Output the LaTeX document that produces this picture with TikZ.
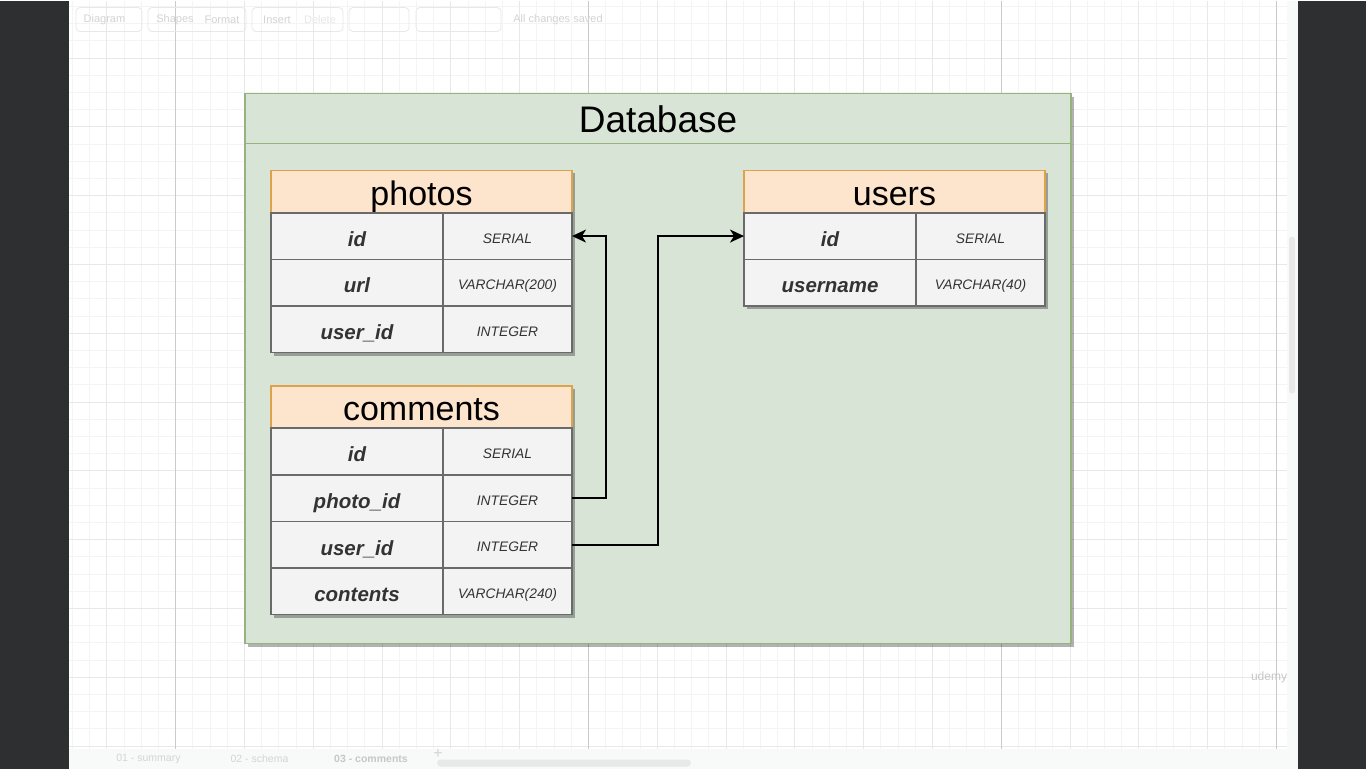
\documentclass[tikz,border=0pt]{standalone}
\usepackage{fontspec}
\setmainfont{Liberation Sans}
\usetikzlibrary{arrows.meta, positioning, shadows}

\definecolor{sidebg}{HTML}{2E2F31}
\definecolor{gridminor}{HTML}{F4F4F4}
\definecolor{gridmajor}{HTML}{E8E8E8}
\definecolor{gridpage}{HTML}{CACACA}
\definecolor{dbfill}{HTML}{D8E4D6}
\definecolor{dbline}{HTML}{96B27F}
\definecolor{headfill}{HTML}{FDE4CC}
\definecolor{headline}{HTML}{DDA24A}
\definecolor{cellfill}{HTML}{F3F3F3}
\definecolor{cellline}{HTML}{6A6A6A}
\definecolor{celltext}{HTML}{333333}
\definecolor{uitext}{HTML}{D4D4D4}
\definecolor{uibar}{HTML}{F8F9F9}

\begin{document}
\begin{tikzpicture}[
		x=1pt, y=-1pt,
		node distance=0pt and 0pt,
		boxshadow/.style={drop shadow={shadow xshift=3pt, shadow yshift=-3pt, fill=black, opacity=0.3}},
		dbbox/.style={draw=dbline, line width=1.5pt, fill=dbfill, minimum width=826pt, minimum height=550pt, outer sep=0pt, boxshadow},
		dbtitle/.style={draw=dbline, line width=1.5pt, minimum width=826pt, minimum height=50pt, outer sep=0pt, inner sep=0pt, text height=28.5pt, text depth=0pt, font=\fontsize{37}{40}\selectfont},
		tablehead/.style={draw=headline, line width=1.5pt, fill=headfill, minimum width=301pt, minimum height=42.5pt, outer sep=0pt, inner sep=0pt, text height=27.5pt, text depth=0pt, font=\fontsize{34}{38}\selectfont, boxshadow},
		namecell/.style={draw=cellline, line width=1.6pt, fill=cellfill, minimum width=172pt, minimum height=46.6pt, outer sep=0pt, inner sep=0pt, text=celltext, text height=20.5pt, text depth=0pt, font=\fontsize{20.5}{24}\selectfont\bfseries\itshape, boxshadow},
		typecell/.style={namecell, minimum width=129pt, text height=14.2pt, font=\fontsize{13.8}{16}\selectfont\itshape},
		arrow/.style={-{Stealth[length=14pt, width=13pt, inset=4pt]}, line width=1.5pt},
		uilabel/.style={text=uitext, inner sep=0pt, font=\fontsize{11}{13}\selectfont},
		uibox/.style={draw=gridmajor, line width=0.8pt, rounded corners=4pt}
	]

		% Screen
		\fill[sidebg] (0,0) rectangle (1366,768);
		\fill[white] (69,0) rectangle (1298,768);
		\foreach \k in {4,...,74}
			\draw[gridminor, line width=1pt] ({3.7+17.2*\k},0) -- ({3.7+17.2*\k},768);
		\foreach \k in {0,...,44}
			\draw[gridminor, line width=1pt] (69,{5.9+17.2*\k}) -- (1287,{5.9+17.2*\k});
		\foreach \k in {-1,...,16}
			\draw[gridmajor, line width=1pt] ({175.7+68.8*\k},0) -- ({175.7+68.8*\k},768);
		\foreach \k in {0,...,10}
			\draw[gridmajor, line width=1pt] (69,{57.5+68.8*\k}) -- (1287,{57.5+68.8*\k});
		\foreach \x in {175.7,588.5,1001.3,1276.5}
			\draw[gridpage, line width=1pt] (\x,0) -- (\x,768);

		% Toolbar
		\draw[uibox] (76,7) rectangle (142,31);
		\draw[uibox] (148,7) rectangle (246,31);
		\draw[uibox] (252,7) rectangle (343,31);
		\draw[uibox] (349,7) rectangle (409,31);
		\draw[uibox] (416,7) rectangle (501,31);
		\node[uilabel] (tb-diagram) at (104.5,19) {Diagram};
		\node[uilabel] (tb-shapes) at (175,19) {Shapes};
		\node[uilabel] (tb-format) at (222,19) {Format};
		\node[uilabel] (tb-insert) at (277,19) {Insert};
		\node[uilabel, text=gridmajor] (tb-delete) at (320,19) {Delete};
		\node[uilabel] (tb-saved) at (558,19) {All changes saved};

		% Tabs and scrollbars
		\fill[uibar] (69,748) rectangle (1287,768);
		\fill[uibar] (1287,0) rectangle (1298,768);
		\fill[gridmajor, rounded corners=3pt] (1289,236) rectangle (1295,393);
		\fill[gridmajor, rounded corners=3.5pt] (437,759) rectangle (691,766);
		\node[uilabel, font=\fontsize{10.5}{12}\selectfont] (tab-one) at (148.5,758) {01 - summary};
		\node[uilabel, font=\fontsize{10.5}{12}\selectfont] (tab-two) at (259.5,758) {02 - schema};
		\node[uilabel, text=black!22, font=\fontsize{10.5}{12}\selectfont\bfseries] (tab-three) at (371,758) {03 - comments};
		\node[uilabel, font=\fontsize{16}{16}\selectfont] (tab-add) at (438,753) {+};
		\node[uilabel, text=black!22, font=\fontsize{12}{14}\selectfont] (mark) at (1269,677) {udemy};

		% Nodes
		\node[dbbox] (db) at (658,368) {};
		\node[dbtitle, anchor=north] (db-title) at (db.north) {Database};

		\node[tablehead] (photos) at (421.5,191) {photos};
		\node[namecell, below right=of photos.south west] (photos-id) {id};
		\node[typecell, right=of photos-id] (photos-id-t) {SERIAL};
		\node[namecell, below=of photos-id] (photos-url) {url};
		\node[typecell, right=of photos-url] (photos-url-t) {VARCHAR(200)};
		\node[namecell, below=of photos-url] (photos-user) {user\_id};
		\node[typecell, right=of photos-user] (photos-user-t) {INTEGER};

		\node[tablehead] (comments) at (421.5,406.5) {comments};
		\node[namecell, below right=of comments.south west] (comments-id) {id};
		\node[typecell, right=of comments-id] (comments-id-t) {SERIAL};
		\node[namecell, below=of comments-id] (comments-photo) {photo\_id};
		\node[typecell, right=of comments-photo] (comments-photo-t) {INTEGER};
		\node[namecell, below=of comments-photo] (comments-user) {user\_id};
		\node[typecell, right=of comments-user] (comments-user-t) {INTEGER};
		\node[namecell, below=of comments-user] (comments-text) {contents};
		\node[typecell, right=of comments-text] (comments-text-t) {VARCHAR(240)};

		\node[tablehead] (users) at (894.5,191) {users};
		\node[namecell, below right=of users.south west] (users-id) {id};
		\node[typecell, right=of users-id] (users-id-t) {SERIAL};
		\node[namecell, below=of users-id] (users-name) {username};
		\node[typecell, right=of users-name] (users-name-t) {VARCHAR(40)};

		% Arrows
		\draw[arrow] (comments-photo-t.east) -- ++(34,0) |- (photos-id-t.east);
		\draw[arrow] (comments-user-t.east) -- ++(86,0) |- (users-id.west);

		\useasboundingbox (0,0) rectangle (1366,768);
	\end{tikzpicture}
\end{document}
